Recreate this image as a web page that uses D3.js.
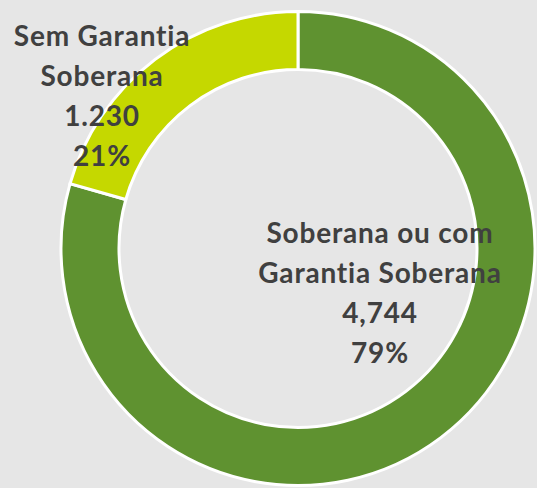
<!DOCTYPE html>
<html><head><meta charset="utf-8">
<script src="https://cdn.jsdelivr.net/npm/d3@7"></script>
<style>html,body{margin:0;padding:0;background:#e6e6e6;overflow:hidden} text{font-variant-ligatures:none}</style>
</head><body><svg id="c" width="537" height="488"></svg>
<script>
const categories = ["Soberana ou com Garantia Soberana", "Sem Garantia Soberana"];
const values = [4744, 1230];
const valueLabels = ["4,744", "1.230"];
const percentLabels = ["79%", "21%"];
const labelLines = [["Soberana ou com", "Garantia Soberana"], ["Sem Garantia", "Soberana"]];
const colors = ["#5f9230", "#c5d800"];

const svg = d3.select("#c");
svg.append("rect").attr("width",537).attr("height",488).attr("fill","#e6e6e6");
const cx = 298, cy = 248.5, R = 237, r = 179;
const g = svg.append("g").attr("transform",`translate(${cx},${cy})`);
const pie = d3.pie().sort(null).value(d=>d)(values);
const arc = d3.arc().innerRadius(r).outerRadius(R);
g.selectAll("path").data(pie).join("path")
  .attr("d", arc).attr("fill",(d,i)=>colors[i])
  .attr("stroke","#fff").attr("stroke-width",3).attr("stroke-linejoin","miter");

const labelPos = [[380, 243], [102, 46]];
const font = "Lato, 'Open Sans', sans-serif";
pie.forEach((d,i)=>{
  const lines = labelLines[i].concat([valueLabels[i], percentLabels[i]]);
  const t = svg.append("text").attr("text-anchor","middle")
    .attr("font-family",font).attr("font-weight","bold").attr("font-size",28)
    .attr("letter-spacing","0.8px")
    .attr("fill","#404040");
  lines.forEach((l,j)=>{
    t.append("tspan").attr("x",labelPos[i][0]).attr("y",labelPos[i][1]+j*40).text(l);
  });
});
</script></body></html>
